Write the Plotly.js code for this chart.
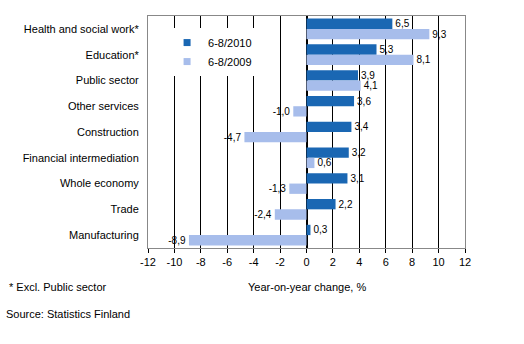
<!DOCTYPE html>
<html><head><meta charset="utf-8">
<script src="https://cdn.plot.ly/plotly-3.0.1.min.js"></script>
<style>html,body{margin:0;padding:0;background:#fff}#c{width:524px;height:344px}</style>
</head><body><div id="c"></div>
<script>
const categories = ["Health and social work*","Education*","Public sector","Other services","Construction","Financial intermediation","Whole economy","Trade","Manufacturing"];
const series2010 = [6.5,5.3,3.9,3.6,3.4,3.2,3.1,2.2,0.3];
const series2009 = [9.3,8.1,4.1,-1.0,-4.7,0.6,-1.3,-2.4,-8.9];
const seriesNames = ["6-8/2010","6-8/2009"];
const tickLabels = ["-12","-10","-8","-6","-4","-2","0","2","4","6","8","10","12"];
const colors = ['#1a67b3','#a7bdeb'];

const tickVals = tickLabels.map(Number);
const fmt = v => v.toFixed(1).replace('.', ',');
const font = {family:"Liberation Sans, Arial, sans-serif", size:11, color:"#000"};
const valFont = {family:"Liberation Sans, Arial, sans-serif", size:10, color:"#000"};
function tr(name, vals, color){
  return {type:'bar', orientation:'h', name:name, y:categories, x:vals, showlegend:false,
    marker:{color:color}, text:vals.map(fmt), textposition:'outside', constraintext:'none',
    textfont:valFont, cliponaxis:false, hoverinfo:'none'};
}
function leg(name, color){
  return {type:'scatter', mode:'markers', name:name, x:[null], y:[null],
    marker:{symbol:'square', size:7, color:color}, hoverinfo:'none'};
}
const data = [tr(seriesNames[0], series2010, colors[0]), tr(seriesNames[1], series2009, colors[1]),
  leg(seriesNames[0], colors[0]), leg(seriesNames[1], colors[1])];
const layout = {
  width:524, height:344, margin:{l:148,r:59,t:16,b:96},
  paper_bgcolor:'#fff', plot_bgcolor:'#fff', font:font,
  barmode:'group', bargap:0.2, bargroupgap:0,
  showlegend:true,
  legend:{x:0.057, y:0.948, xanchor:'left', yanchor:'top', bgcolor:'#fff', borderwidth:0,
    font:font, traceorder:'normal', itemwidth:32, tracegroupgap:0},
  xaxis:{range:[tickVals[0], tickVals[tickVals.length-1]], tickmode:'array', tickvals:tickVals, ticktext:tickLabels,
    showgrid:true, gridcolor:'black', gridwidth:1, zeroline:true, zerolinecolor:'black', zerolinewidth:2,
    ticks:'outside', ticklen:4, tickcolor:'black', showline:true, linecolor:'#888', mirror:true,
    tickfont:font},
  yaxis:{categoryorder:'array', categoryarray:categories, autorange:'reversed',
    showgrid:false, ticks:'', showline:true, linecolor:'#888', mirror:true, tickfont:font, ticklabelstandoff:6},
  annotations:[
    {text:"Year-on-year change, %", xref:'paper', yref:'paper', x:0.5, y:-0.135, xanchor:'center', yanchor:'top', showarrow:false, font:font},
    {text:"* Excl. Public sector", xref:'paper', yref:'paper', x:-0.445, y:-0.135, xanchor:'left', yanchor:'top', showarrow:false, font:font},
    {text:"Source: Statistics Finland", xref:'paper', yref:'paper', x:-0.455, y:-0.25, xanchor:'left', yanchor:'top', showarrow:false, font:font}
  ]
};
Plotly.newPlot('c', data, layout, {displayModeBar:false, staticPlot:true});
</script></body></html>
